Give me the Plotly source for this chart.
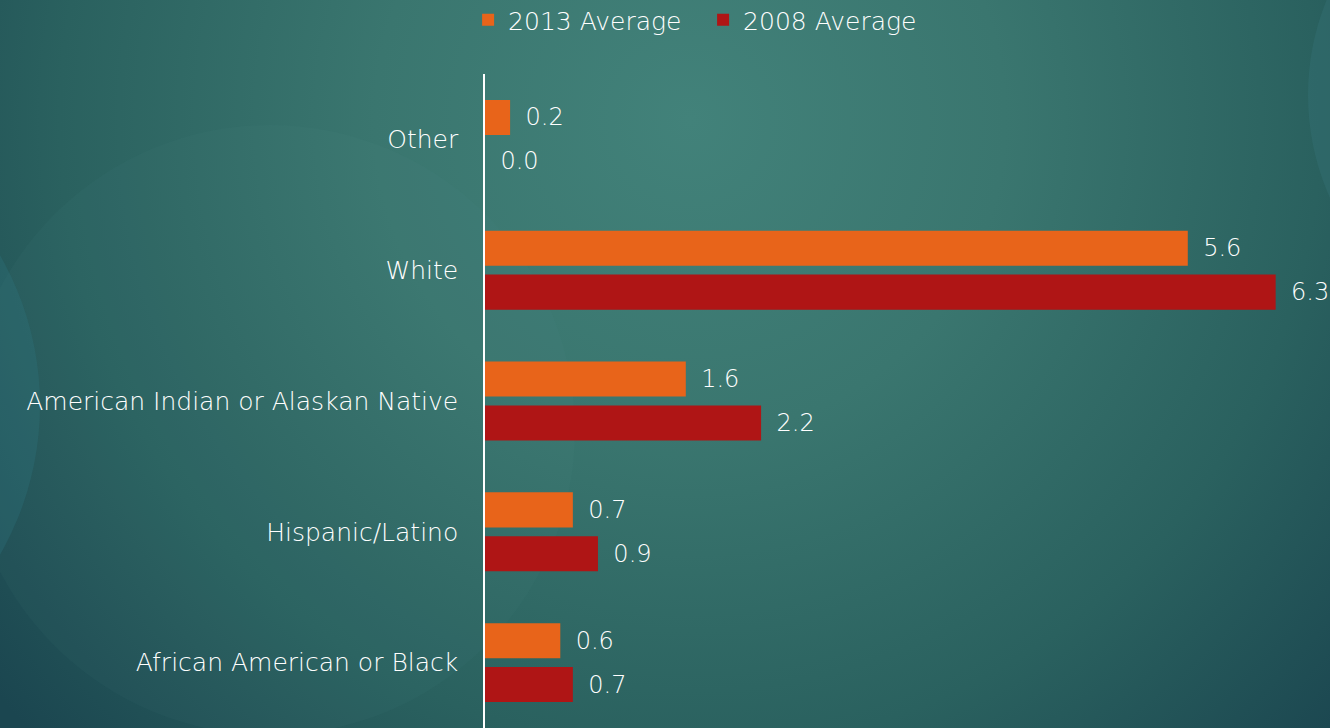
import base64
import plotly.graph_objects as go

# Ethnicity categories, listed top to bottom as shown
categories = [
    "Other",
    "White",
    "American Indian or Alaskan Native",
    "Hispanic/Latino",
    "African American or Black",
]
avg_2013 = [0.2, 5.6, 1.6, 0.7, 0.6]
avg_2008 = [0.0, 6.3, 2.2, 0.9, 0.7]

W, H = 1330, 728
ML, MR, MT, MB = 485, 0, 74, 0
PW, PH = W - ML - MR, H - MT - MB

ORANGE = "#E8641A"
RED = "#AF1515"
FONT = "DejaVu Sans"

# Teal slide-style backdrop: radial gradient plus a few faint discs
bg_svg = f"""<svg xmlns='http://www.w3.org/2000/svg' width='{W}' height='{H}' viewBox='0 0 {W} {H}'>
<defs>
<radialGradient id='g' cx='690' cy='120' r='900' gradientUnits='userSpaceOnUse'>
<stop offset='0' stop-color='#42827A'/>
<stop offset='0.35' stop-color='#3A766F'/>
<stop offset='0.7' stop-color='#2A615F'/>
<stop offset='1' stop-color='#1B4650'/>
</radialGradient>
</defs>
<rect width='{W}' height='{H}' fill='url(#g)'/>
<circle cx='270' cy='430' r='305' fill='#5FA09A' fill-opacity='0.05'/>
<circle cx='-260' cy='405' r='300' fill='#2E7A88' fill-opacity='0.25'/>
<circle cx='1560' cy='95' r='252' fill='#3E8088' fill-opacity='0.22'/>
</svg>"""
bg_uri = "data:image/svg+xml;base64," + base64.b64encode(bg_svg.encode()).decode()

label_font = dict(color="white", size=24, family=FONT, weight=300)
axis_font = dict(color="white", size=25, family=FONT, weight=300)

fig = go.Figure()
fig.add_trace(go.Bar(
    name="2013 Average", y=categories, x=avg_2013, orientation="h",
    marker=dict(color=ORANGE, line=dict(width=0)),
    texttemplate="\u00a0\u2009%{x:.1f}", textposition="outside",
    textfont=label_font, cliponaxis=False,
))
fig.add_trace(go.Bar(
    name="2008 Average", y=categories, x=avg_2008, orientation="h",
    marker=dict(color=RED, line=dict(width=0)),
    texttemplate="\u00a0\u2009%{x:.1f}", textposition="outside",
    textfont=label_font, cliponaxis=False,
))

fig.update_layout(
    width=W, height=H,
    margin=dict(l=ML, r=MR, t=MT, b=MB, pad=0, autoexpand=False),
    paper_bgcolor="rgba(0,0,0,0)",
    plot_bgcolor="rgba(0,0,0,0)",
    barmode="group", bargap=0.33, bargroupgap=0.2,
    font=axis_font,
    showlegend=True,
    legend=dict(
        orientation="h", x=-0.02, xanchor="left", y=1 + (MT - 20) / PH, yanchor="middle",
        font=axis_font, bgcolor="rgba(0,0,0,0)", itemwidth=30, tracegroupgap=0,
        entrywidth=190, entrywidthmode="pixels",
    ),
    xaxis=dict(range=[0, PW / 125.5], visible=False, fixedrange=True),
    yaxis=dict(
        autorange="reversed", showline=True, linecolor="white", linewidth=1.5,
        showgrid=False, zeroline=False, ticks="", ticklabelstandoff=20,
        tickfont=axis_font,
    ),
    images=[dict(
        source=bg_uri, xref="paper", yref="paper",
        x=-ML / PW, y=1 + MT / PH, sizex=W / PW, sizey=H / PH,
        xanchor="left", yanchor="top", sizing="stretch", layer="below",
    )],
)

fig.write_html("out.html")
